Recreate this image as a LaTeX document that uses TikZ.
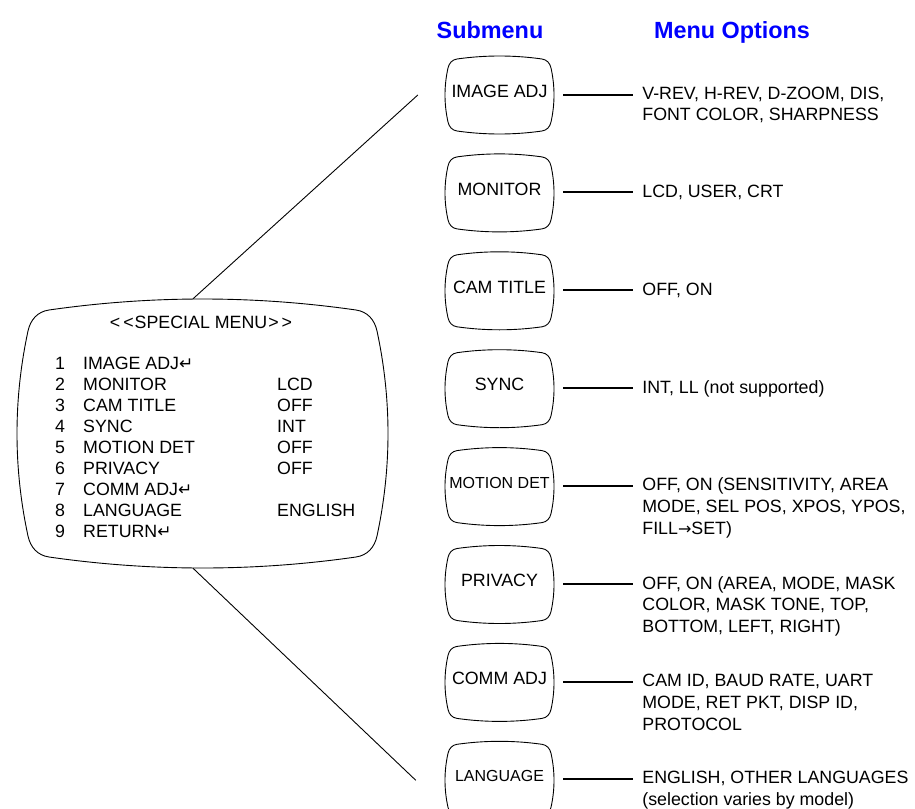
\documentclass[tikz,border=0pt]{standalone}
\usepackage{fontspec}
\setmainfont{Liberation Sans}
\newfontfamily\arrowfont{DejaVu Sans}
\usetikzlibrary{positioning}

\newcommand{\retarrow}{{\arrowfont\fontsize{17}{17}\selectfont ↵}}
\newcommand{\optarrow}{{\arrowfont\fontsize{16}{16}\selectfont →}}
% monitor-screen outline round a node: node, half width, half height, bulge, corner
\newcommand{\tvframe}[5]{%
\begin{scope}[shift={(#1.center)}]
\pgfmathsetmacro{\tva}{atan(2*#4/(#2-#5))}
\pgfmathsetmacro{\tvb}{atan(2*#4/(#3-#5))}
\pgfmathsetmacro{\tvk}{0.55*(#5-#4)}
\draw[tvline] ({-(#2-#5)},{#3-#4})
  .. controls ({-(#2-#5)/3},{#3+#4/3}) and ({(#2-#5)/3},{#3+#4/3}) .. ({#2-#5},{#3-#4})
  .. controls +({-\tva}:\tvk) and +({90+\tvb}:\tvk) .. ({#2-#4},{#3-#5})
  .. controls ({#2+#4/3},{(#3-#5)/3}) and ({#2+#4/3},{-(#3-#5)/3}) .. ({#2-#4},{-(#3-#5)})
  .. controls +({-90-\tvb}:\tvk) and +(\tva:\tvk) .. ({#2-#5},{-#3+#4})
  .. controls ({(#2-#5)/3},{-#3-#4/3}) and ({-(#2-#5)/3},{-#3-#4/3}) .. ({-(#2-#5)},{-#3+#4})
  .. controls +({180-\tva}:\tvk) and +({-90+\tvb}:\tvk) .. ({-#2+#4},{-(#3-#5)})
  .. controls ({-#2-#4/3},{-(#3-#5)/3}) and ({-#2-#4/3},{(#3-#5)/3}) .. ({-#2+#4},{#3-#5})
  .. controls +({90-\tvb}:\tvk) and +({180+\tva}:\tvk) .. ({-(#2-#5)},{#3-#4}) -- cycle;
\end{scope}}

\begin{document}
\begin{tikzpicture}[x=1pt, y=1pt,
subbox/.style={inner sep=0pt, minimum width=109pt, minimum height=78pt, text depth=8pt, font=\fontsize{17.8}{21.5}\selectfont},
smallbox/.style={subbox, font=\fontsize{16}{19}\selectfont},
opttext/.style={align=left, inner sep=0pt, font=\fontsize{17.8}{21.7}\selectfont},
header/.style={inner sep=0pt, anchor=base, text=blue, font=\fontsize{23.4}{28}\selectfont\bfseries},
tvline/.style={draw=black, line width=0.9pt},
optlink/.style={line width=2pt, shorten <=9pt, shorten >=9pt},
menulink/.style={line width=0.9pt},
]
\useasboundingbox (0,0) rectangle (915,-808);

%Headers
\node[header]     (subhead)                       at (490,-38.3)    {Submenu};
\node[header]     (opthead)                       at (732,-38.3)    {Menu Options};

%Special menu
\node[minimum width=371pt, minimum height=269pt]  (menu)  at (202.5,-433.5) {};
\node[inner sep=0pt, font=\fontsize{17.8}{21}\selectfont] (menutitle) at (201,-322) {<\kern3pt<\kern1pt SPECIAL MENU\kern1pt>\kern3pt>};
\node[anchor=north west, inner sep=0pt, font=\fontsize{17.8}{21}\selectfont] (menurows) at (55,-354.7) {%
\begin{tabular}{@{}p{28pt}@{}p{194pt}@{}l@{}}
1 & IMAGE ADJ\retarrow & \\
2 & MONITOR & LCD \\
3 & CAM TITLE & OFF \\
4 & SYNC & INT \\
5 & MOTION DET & OFF \\
6 & PRIVACY & OFF \\
7 & COMM ADJ\retarrow & \\
8 & LANGUAGE & ENGLISH \\
9 & RETURN\retarrow & \\
\end{tabular}};

%Submenus
\node[subbox]     (imageadj)                      at (499.5,-95)    {IMAGE ADJ};
\node[subbox]     (monitor)   [below=19.5pt of imageadj]            {MONITOR};
\node[subbox]     (camtitle)  [below=19.5pt of monitor]             {CAM TITLE};
\node[subbox]     (sync)      [below=19.5pt of camtitle]            {SYNC};
\node[smallbox]   (motiondet) [below=19.5pt of sync]                {MOTION DET};
\node[subbox]     (privacy)   [below=19.5pt of motiondet]           {PRIVACY};
\node[subbox]     (commadj)   [below=19.5pt of privacy]             {COMM ADJ};
\node[smallbox]   (language)  [below=19.5pt of commadj]             {LANGUAGE};

%Options
\node[opttext]    (imageadjopt)  [right=88pt of imageadj.mid east, anchor=north west, yshift=8pt]  {V-REV, H-REV, D-ZOOM, DIS,\\FONT COLOR, SHARPNESS};
\node[opttext]    (monitoropt)   [right=88pt of monitor.mid east, anchor=north west, yshift=8pt]   {LCD, USER, CRT};
\node[opttext]    (camtitleopt)  [right=88pt of camtitle.mid east, anchor=north west, yshift=8pt]  {OFF, ON};
\node[opttext]    (syncopt)      [right=88pt of sync.mid east, anchor=north west, yshift=8pt]      {INT, LL (not supported)};
\node[opttext]    (motiondetopt) [right=88pt of motiondet.mid east, anchor=north west, yshift=8pt] {OFF, ON (SENSITIVITY, AREA\\MODE, SEL POS, XPOS, YPOS,\\FILL\optarrow SET)};
\node[opttext]    (privacyopt)   [right=88pt of privacy.mid east, anchor=north west, yshift=8pt]   {OFF, ON (AREA, MODE, MASK\\COLOR, MASK TONE, TOP,\\BOTTOM, LEFT, RIGHT)};
\node[opttext]    (commadjopt)   [right=88pt of commadj.mid east, anchor=north west, yshift=8pt]   {CAM ID, BAUD RATE, UART\\MODE, RET PKT, DISP ID,\\PROTOCOL};
\node[opttext]    (languageopt)  [right=88pt of language.mid east, anchor=north west, yshift=8pt]  {ENGLISH, OTHER LANGUAGES\\(selection varies by model)};

%Frames
\tvframe{menu}{185.5}{134.5}{11}{32}
\tvframe{imageadj}{54.5}{39}{3}{12}
\tvframe{monitor}{54.5}{39}{3}{12}
\tvframe{camtitle}{54.5}{39}{3}{12}
\tvframe{sync}{54.5}{39}{3}{12}
\tvframe{motiondet}{54.5}{39}{3}{12}
\tvframe{privacy}{54.5}{39}{3}{12}
\tvframe{commadj}{54.5}{39}{3}{12}
\tvframe{language}{54.5}{39}{3}{12}

%Lines
\coordinate (topfoot) at ([xshift=-9.5pt]menu.north);
\coordinate (topend)  at ([xshift=-27pt]imageadj.west);
\coordinate (botfoot) at ([xshift=-9.5pt]menu.south);
\coordinate (botend)  at ([xshift=-29pt]language.west);
\draw[menulink] (topfoot) -- (topend);
\draw[menulink] (botfoot) -- (botend);
\draw[optlink] (imageadj.mid east)  -- (imageadj.mid east -| imageadjopt.west);
\draw[optlink] (monitor.mid east)   -- (monitor.mid east -| monitoropt.west);
\draw[optlink] (camtitle.mid east)  -- (camtitle.mid east -| camtitleopt.west);
\draw[optlink] (sync.mid east)      -- (sync.mid east -| syncopt.west);
\draw[optlink] (motiondet.mid east) -- (motiondet.mid east -| motiondetopt.west);
\draw[optlink] (privacy.mid east)   -- (privacy.mid east -| privacyopt.west);
\draw[optlink] (commadj.mid east)   -- (commadj.mid east -| commadjopt.west);
\draw[optlink] (language.mid east)  -- (language.mid east -| languageopt.west);
\end{tikzpicture}
\end{document}
